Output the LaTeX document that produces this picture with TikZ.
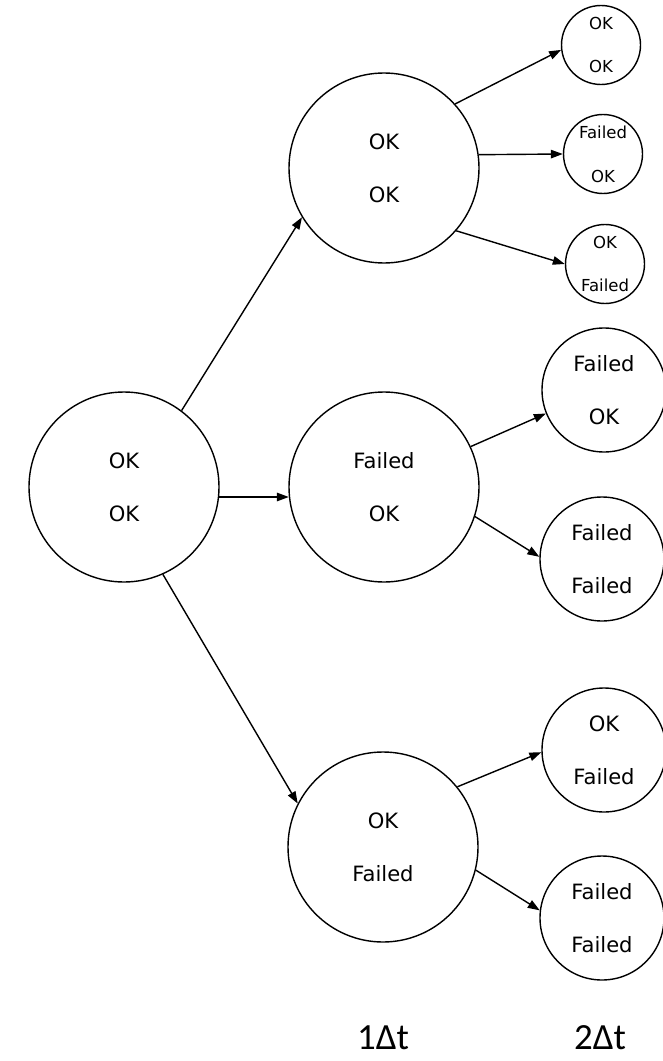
\documentclass[tikz,border=0pt]{standalone}
\usepackage{fontspec}
\newfontfamily\vfont{DejaVu Sans}
\newfontfamily\cfont{Carlito}
\usetikzlibrary{arrows.meta}
\tikzset{
  st/.style={circle, draw, line width=0.8pt, inner sep=0pt, align=center,
             font=\vfont\fontsize{12}{30}\selectfont},
  stbig/.style={st, minimum size=3.8cm},
  stmid/.style={st, minimum size=2.48cm},
  stsml/.style={st, minimum size=1.58cm, font=\vfont\fontsize{9.4}{25}\selectfont},
  tr/.style={-{Triangle[length=2.4mm,width=1.7mm]}, line width=0.8pt},
  tlab/.style={font=\cfont\fontsize{21}{25}\selectfont, anchor=base, inner sep=0pt},
}

\begin{document}
\begin{tikzpicture}
  \useasboundingbox (0,0) rectangle (13.24,-21.22);
  % states
  \node[stbig] (s0) at (2.48,-9.74) {OK\\OK};
  \node[stbig] (s1) at (7.68,-3.36) {OK\\OK};
  \node[stbig] (s2) at (7.68,-9.74) {Failed\\OK};
  \node[stbig] (s3) at (7.66,-16.94) {OK\\Failed};
  \node[stsml] (s11) at (12.02,-0.9) {OK\\OK};
  \node[stsml] (s12) at (12.06,-3.08) {Failed\\OK};
  \node[stsml] (s13) at (12.10,-5.28) {OK\\Failed};
  \node[stmid] (s21) at (12.08,-7.8) {Failed\\OK};
  \node[stmid] (s22) at (12.04,-11.18) {Failed\\Failed};
  \node[stmid] (s31) at (12.08,-15.0) {OK\\Failed};
  \node[stmid] (s32) at (12.04,-18.36) {Failed\\Failed};
  % transitions
  \draw[tr] (s0.53) -- (s1.211);
  \draw[tr] (s0.-6) -- (s2.186);
  \draw[tr] (s0.-66) -- (s3.153);
  \draw[tr] (s1.42) -- (s11.187);
  \draw[tr] (s1.8) -- (s12.180);
  \draw[tr] (s1.-41) -- (s13.180);
  \draw[tr] (s2.25) -- (s21.202);
  \draw[tr] (s2.-18) -- (s22.178);
  \draw[tr] (s3.39) -- (s31.182);
  \draw[tr] (s3.-14) -- (s32.173);
  % time steps
  \node[tlab] (t1) at (7.66,-20.98) {1Δt};
  \node[tlab] (t2) at (12.0,-20.98) {2Δt};
\end{tikzpicture}
\end{document}
